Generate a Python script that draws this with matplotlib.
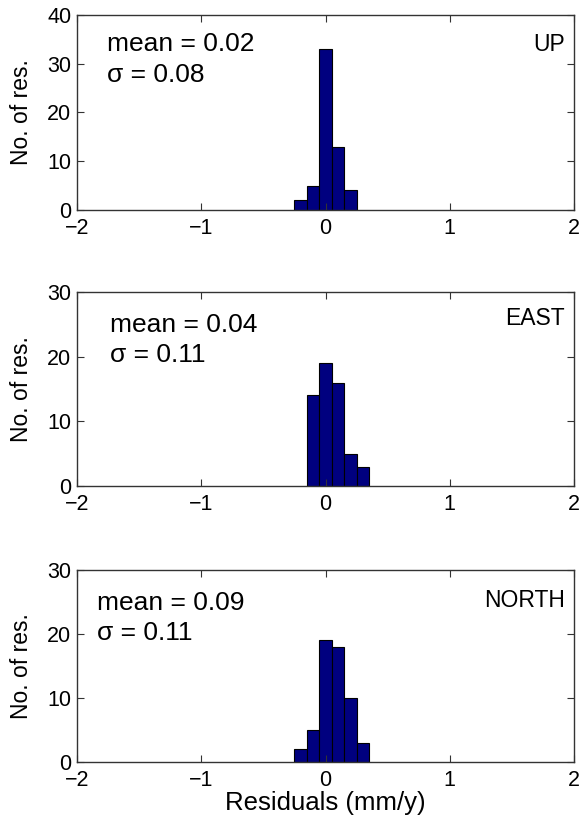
import numpy as np
import matplotlib
matplotlib.use('Agg')
import matplotlib.pyplot as plt

plt.rcParams['font.family'] = ['Liberation Sans', 'DejaVu Sans']

# bin centres (mm/y) and counts
up_centers = [-0.2, -0.1, 0.0, 0.1, 0.2]
up_counts = [2, 5, 33, 13, 4]
east_centers = [-0.1, 0.0, 0.1, 0.2, 0.3]
east_counts = [14, 19, 16, 5, 3]
north_centers = [-0.2, -0.1, 0.0, 0.1, 0.2, 0.3]
north_counts = [2, 5, 19, 18, 10, 3]

panel_names = ['UP', 'EAST', 'NORTH']
means = ['0.02', '0.04', '0.09']
sigmas = ['0.08', '0.11', '0.11']
ymaxes = [40, 30, 30]

W, H = 583, 821
fig = plt.figure(figsize=(W / 100, H / 100), dpi=100)

# axes boxes in pixels: (left, top, right, bottom)
boxes = [(77, 15, 574, 210), (77, 292, 574, 486), (77, 570, 574, 762)]
text_pos = [(0.06, 0.85, 0.69), (0.066, 0.83, 0.675), (0.04, 0.83, 0.67)]
label_y = [0.85, 0.865, 0.84]

data = [(up_centers, up_counts), (east_centers, east_counts),
        (north_centers, north_counts)]

for i, (centers, counts) in enumerate(data):
    l, t, r, b = boxes[i]
    ax = fig.add_axes([l / W, 1 - b / H, (r - l) / W, (b - t) / H])
    ax.bar(centers, counts, width=0.1, color='#00007f', edgecolor='black',
           linewidth=0.8)
    ax.set_xlim(-2, 2)
    ax.set_ylim(0, ymaxes[i])
    ax.set_xticks([-2, -1, 0, 1, 2])
    ax.set_xticklabels(['\u22122', '\u22121', '0', '1', '2'])
    ax.set_yticks(np.arange(0, ymaxes[i] + 1, 10))
    ax.tick_params(direction='in', top=True, right=True, length=5,
                   width=0.8, labelsize=15.5, color='#333333', pad=4)
    ax.tick_params(axis='x', pad=6)
    for s in ax.spines.values():
        s.set_color('#333333')
        s.set_linewidth(1.0)
    ax.set_ylabel('No. of res.', fontsize=16.5, labelpad=10)
    tx, ty1, ty2 = text_pos[i]
    ax.text(tx, ty1, 'mean = ' + means[i], transform=ax.transAxes,
            fontsize=19, va='center', ha='left')
    ax.text(tx, ty2, '\u03c3 = ' + sigmas[i], transform=ax.transAxes,
            fontsize=19, va='center', ha='left')
    ax.text(0.982, label_y[i], panel_names[i], transform=ax.transAxes,
            fontsize=16.5, va='center', ha='right')
    if i == 2:
        ax.set_xlabel('Residuals (mm/y)', fontsize=18.5, labelpad=0)

fig.savefig('out.png', dpi=100)
